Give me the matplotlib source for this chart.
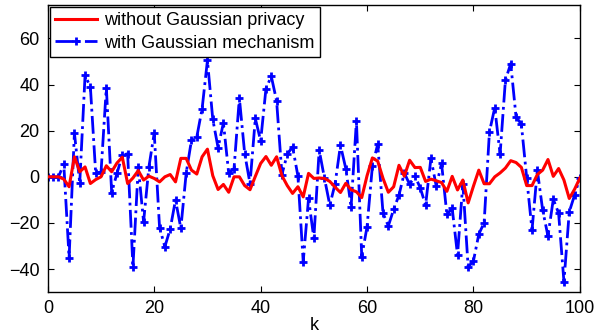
import matplotlib
matplotlib.use("Agg")
import matplotlib.pyplot as plt
import numpy as np

plt.rcParams['font.family'] = ['Liberation Sans', 'DejaVu Sans']

# values, k = 0..100
k = np.arange(0, 101)

without_privacy = [
    0, 0, 0, -1, -4.3, 8.7, 2.2, 4.3, -2.9, -1.2,
    0, 4.8, 2.2, 6, 8.5, -2.9, -0.5, 2.7, -1.4, 0.3,
    -0.7, -2.2, 0, 1, -2.2, 8, 8, 2.9, 1.2, 8.7,
    12, 0.5, -5.5, -3.3, -6.7, 0, 0, -3.8, -5.6, 0.2,
    5.8, 8.8, 5, 8.7, 0.5, -3.8, -7.2, -4.3, -8.7, 1.5,
    -0.7, -0.5, -0.7, -2, -4.5, -6.8, -2.8, -5.6, -6.5, -9,
    0.5, 8.2, 6.8, -0.7, -6.7, -4.3, 5, 0.3, 7.2, 4,
    4.1, -2, -1, -1.7, -2.5, -6.3, 0.2, -5.7, -1.4, -11.3,
    -4, 2.9, -3, -3, 0, 1.7, 3.8, 7, 6.2, 4.1,
    -3.8, -3.8, 1, 2.9, 7.5, 0.2, 3.6, -1.4, -9.4, -5.4,
    -0.5,
]

with_gaussian = [
    0, 0, 0, 5.4, -35, 19, -2.6, 44, 39, 1.5,
    2, 38.7, -6.8, 1.5, 9.4, 10, -39, 4.3, -19.5, 4.3,
    19, -22, -30.3, -22.6, -10, -22.3, 1.5, 15.9, 17.3, 29.6,
    50.5, 25, 12.6, 23.4, 1.5, 3.6, 34.2, 10.1, -2.9, 25.3,
    15.6, 38.3, 43.6, 32.9, 1, 9.8, 13, 0.4, -36.8, -9.4,
    -26.7, 11.6, -0.7, -12.3, -2.9, 13.7, 3.6, -13, 24.2, -34.6,
    -21.6, 4.6, 14.2, -15.8, -21.3, -14.1, -7.9, 1.7, -3.3, 0.3,
    -4.8, -12.3, 8, -4, 5.8, -16.3, -13.7, -33.9, -2.9, -39.2,
    -36.4, -24.9, -19.9, 19.5, 30, 9.8, 41.9, 49.1, 26, 22.8,
    -0.4, -23.1, 2.9, -14.4, -25.7, -9.7, -15.8, -45.5, -15.2, -7.9,
    -0.3,
]

xticks = [0, 20, 40, 60, 80, 100]
yticks = [-40, -20, 0, 20, 40, 60]

fig = plt.figure(figsize=(6.13, 3.35), dpi=100)
ax = fig.add_axes([0.078, 0.128, 0.868, 0.857])

l2, = ax.plot(k, with_gaussian, color=(0, 0, 1), linestyle='-.', linewidth=2.0,
              marker='+', markersize=6, markeredgewidth=2.0, zorder=2)
l1, = ax.plot(k, without_privacy, color=(1, 0, 0), linestyle='-', linewidth=2.2, zorder=3)

ax.set_xlim(0, 100)
ax.set_ylim(-50, 74.5)
ax.set_xticks(xticks)
ax.set_yticks(yticks)
ax.tick_params(direction='in', top=True, right=True, labelsize=13, length=4, pad=6)
ax.set_xlabel('k', fontsize=13, labelpad=0)
for s in ax.spines.values():
    s.set_linewidth(1.0)

leg = ax.legend([l1, l2], ['without Gaussian privacy', 'with Gaussian mechanism'],
                loc='upper left', fontsize=13, fancybox=False, framealpha=1,
                edgecolor='black', borderaxespad=0.1, handlelength=2.3,
                borderpad=0.3, labelspacing=0.3, handletextpad=0.4)
leg.get_frame().set_linewidth(1.0)

fig.savefig('out.png', dpi=100)
